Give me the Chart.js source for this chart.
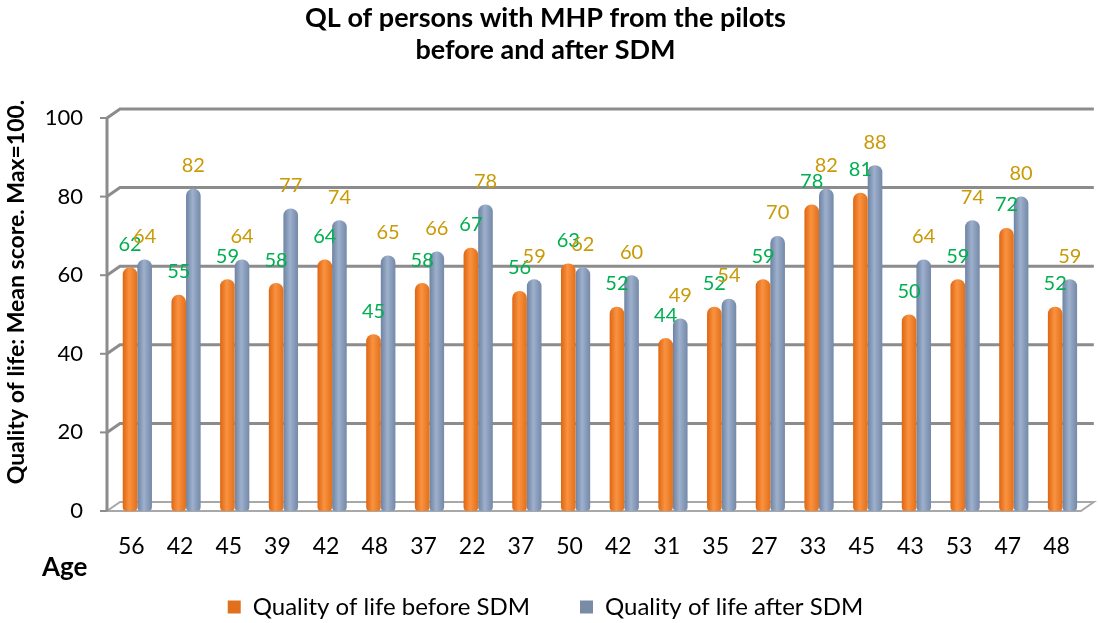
<!DOCTYPE html>
<html><head><meta charset="utf-8">
<script src="https://cdn.jsdelivr.net/npm/chart.js@4/dist/chart.umd.min.js"></script>
<style>html,body{margin:0;padding:0;background:#fff}#wrap{width:1098px;height:623px;position:relative}</style>
</head><body><div id="wrap"><canvas id="c"></canvas></div>
<script>
const ages = ['56','42','45','39','42','48','37','22','37','50','42','31','35','27','33','45','43','53','47','48'];
const before = [62,55,59,58,64,45,58,67,56,63,52,44,52,59,78,81,50,59,72,52];
const after = [64,82,64,77,74,65,66,78,59,62,60,49,54,70,82,88,64,74,80,59];
const yTicks = [0,20,40,60,80,100];
const titleLines = ['QL of persons with MHP from the pilots','before and after SDM'];
const yTitle = 'Quality of life: Mean score. Max=100.';
const xTitle = 'Age';
const seriesNames = ['Quality of life before SDM','Quality of life after SDM'];
const labelColors = ['#00B050','#C99A06'];
const legendColors = ['#E0701C','#7A8BA6'];
const orangeStops = ['#DD6612','#FA9240','#E2701A'];
const blueStops = ['#6E82A2','#9DB0CC','#7488A8'];

const FONT = 'Lato, "Open Sans", sans-serif';
const DX = 13, DY = 9, SHIFT = 6;
const LEGEND_PAD = 50, LEGEND_CENTER_Y = 607, LEGEND_FONT = 24;

function cyl(stops){
  return function(c){
    const el = c.element;
    if(!el || !isFinite(el.x) || !isFinite(el.width) || !el.width) return stops[1];
    const g = c.chart.ctx.createLinearGradient(el.x - el.width/2, 0, el.x + el.width/2, 0);
    g.addColorStop(0, stops[0]); g.addColorStop(0.45, stops[1]); g.addColorStop(1, stops[2]);
    return g;
  };
}

const frame = {
  id:'frame',
  beforeLayout(chart){
    const lg = chart.legend;
    if(lg && !lg._patched){
      const f = lg.fit.bind(lg);
      lg.fit = function(){ f(); this.height = 62; };
      lg._patched = true;
    }
  },
  afterLayout(chart){
    const lg = chart.legend;
    if(lg){
      lg.top = LEGEND_CENTER_Y - LEGEND_PAD - LEGEND_FONT/2;
      lg.bottom = chart.height;
      lg.height = lg.bottom - lg.top;
    }
  },
  beforeDatasetsDraw(chart){
    const {ctx, chartArea:a, scales:{y}} = chart;
    const L = a.left - SHIFT, R = a.right - SHIFT;
    const y0 = y.getPixelForValue(0), yTop = y.getPixelForValue(100);
    ctx.save();
    ctx.lineCap = 'butt';
    ctx.strokeStyle = '#a8a8a8'; ctx.lineWidth = 2;
    ctx.beginPath();
    ctx.moveTo(L, y0); ctx.lineTo(R, y0); ctx.lineTo(R + DX, y0 - DY); ctx.lineTo(L + DX, y0 - DY); ctx.closePath();
    ctx.stroke();
    ctx.strokeStyle = '#8c8c8c'; ctx.lineWidth = 3;
    for(const v of yTicks){
      if(v === 0) continue;
      const py = y.getPixelForValue(v);
      ctx.beginPath(); ctx.moveTo(L, py); ctx.lineTo(L + DX, py - DY); ctx.lineTo(R + DX, py - DY); ctx.stroke();
    }
    ctx.beginPath(); ctx.moveTo(L, yTop); ctx.lineTo(L, y0); ctx.stroke();
    ctx.lineWidth = 2;
    for(const v of yTicks){
      const py = y.getPixelForValue(v);
      ctx.beginPath(); ctx.moveTo(L - 7, py); ctx.lineTo(L, py); ctx.stroke();
    }
    ctx.restore();
  },
  afterDatasetsDraw(chart){
    const {ctx} = chart;
    ctx.save();
    ctx.font = '20px ' + FONT; ctx.textAlign = 'center'; ctx.textBaseline = 'middle';
    chart.data.datasets.forEach((ds, di) => {
      const meta = chart.getDatasetMeta(di);
      ctx.fillStyle = labelColors[di];
      meta.data.forEach((el, i) => { ctx.fillText(String(ds.data[i]), el.x, el.y - 23); });
    });
    ctx.restore();
  },
  afterDraw(chart){
    const {ctx} = chart;
    ctx.save();
    ctx.fillStyle = '#000';
    ctx.font = 'bold 23px ' + FONT; ctx.textAlign = 'center'; ctx.textBaseline = 'middle';
    ctx.translate(17, 292); ctx.rotate(-Math.PI/2); ctx.fillText(yTitle, 0, 0);
    ctx.restore();
    ctx.save();
    ctx.fillStyle = '#000';
    ctx.font = 'bold 26px ' + FONT; ctx.textAlign = 'left'; ctx.textBaseline = 'middle';
    ctx.fillText(xTitle, 42, 568);
    ctx.restore();
  }
};

const chart = new Chart(document.getElementById('c'), {
  type:'bar',
  data:{
    labels: ages,
    datasets:[
      {label:seriesNames[0], data:before, backgroundColor:cyl(orangeStops), borderWidth:0,
       borderRadius:{topLeft:7,topRight:7,bottomLeft:4,bottomRight:4}, borderSkipped:false,
       categoryPercentage:0.6, barPercentage:1},
      {label:seriesNames[1], data:after, backgroundColor:cyl(blueStops), borderWidth:0,
       borderRadius:{topLeft:7,topRight:7,bottomLeft:4,bottomRight:4}, borderSkipped:false,
       categoryPercentage:0.6, barPercentage:1}
    ]
  },
  options:{
    responsive:true, maintainAspectRatio:false, animation:false, events:[],
    layout:{padding:{left:0,right:7,top:0,bottom:0}},
    plugins:{
      title:{display:true, text:titleLines, color:'#000',
        font:{family:FONT, size:27, weight:'bold', lineHeight:32/27}, padding:{top:2,bottom:52}},
      legend:{position:'bottom',
        labels:{color:'#000', font:{family:FONT,size:LEGEND_FONT}, boxWidth:13, boxHeight:13, padding:LEGEND_PAD,
          generateLabels(ch){
            const items = Chart.defaults.plugins.legend.labels.generateLabels(ch);
            items.forEach((it,i)=>{ it.fillStyle = legendColors[i]; it.strokeStyle = legendColors[i]; it.lineWidth = 0; });
            return items;
          }}},
      tooltip:{enabled:false}
    },
    scales:{
      x:{grid:{display:false, drawTicks:false}, border:{display:false},
        ticks:{color:'#000', font:{family:FONT,size:23}, padding:22, labelOffset:-SHIFT, maxRotation:0, autoSkip:false},
        afterFit(s){ s.height = 50; }},
      y:{min:0, max:100, grid:{display:false, drawTicks:false}, border:{display:false},
        ticks:{stepSize:20, color:'#000', font:{family:FONT,size:22}, padding:30},
        afterFit(s){ s.width = 113; }}
    }
  },
  plugins:[frame]
});
chart.update('none');
</script>
</body></html>
